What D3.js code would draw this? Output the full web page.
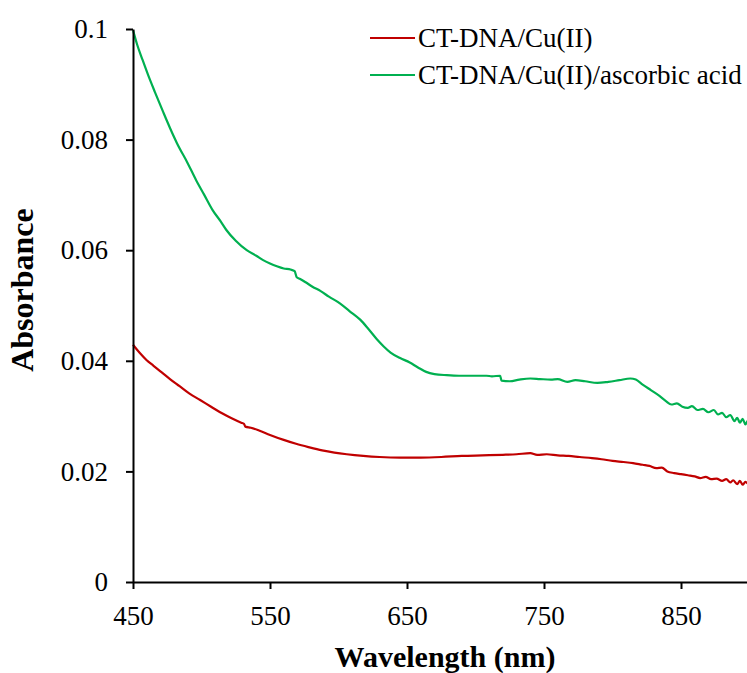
<!DOCTYPE html>
<html>
<head>
<meta charset="utf-8">
<script src="https://cdn.jsdelivr.net/npm/d3@7"></script>
<style>
  body { margin: 0; background: #fff; }
  svg { display: block; font-family: "Liberation Serif", "Times New Roman", serif; }
</style>
</head>
<body>
<div id="chart"></div>
<script>
// Absorbance readings (nm, absorbance)
const greenWl = [450, 453, 457, 461, 466, 472, 477, 482, 490, 496, 502, 508, 514, 518, 525, 533, 540, 545, 550, 555, 560, 565, 568, 569.5, 572, 576, 581, 587, 593, 601, 608, 616, 622, 628, 633, 638, 645, 652, 658, 664, 670, 679, 688, 698, 708, 712, 718, 719, 725, 732, 740, 747, 755, 760, 767, 773, 780, 789, 797, 805, 813, 817, 822, 828, 834, 839, 843, 847, 851, 855, 858, 862, 866, 870, 874, 877, 880, 883, 886, 889, 891, 893, 895, 897, 899, 900];
const greenAbs = [0.0998, 0.0972, 0.0944, 0.0917, 0.0886, 0.0850, 0.0821, 0.0794, 0.0757, 0.0727, 0.0700, 0.0673, 0.0652, 0.0637, 0.0617, 0.0600, 0.0590, 0.0582, 0.0576, 0.0571, 0.0567, 0.0565, 0.0562, 0.0551, 0.0548, 0.0542, 0.0534, 0.0526, 0.0516, 0.0504, 0.0490, 0.0474, 0.0457, 0.0439, 0.0426, 0.0415, 0.0405, 0.0397, 0.0388, 0.0380, 0.0376, 0.0374, 0.0373, 0.0373, 0.0373, 0.0372, 0.0373, 0.0364, 0.0363, 0.0366, 0.0368, 0.0367, 0.0366, 0.0367, 0.0362, 0.0365, 0.0363, 0.0360, 0.0362, 0.0365, 0.0368, 0.0366, 0.0357, 0.0347, 0.0337, 0.0327, 0.0321, 0.0323, 0.0317, 0.0315, 0.0318, 0.0311, 0.0313, 0.0307, 0.0311, 0.0303, 0.0306, 0.0298, 0.0302, 0.0291, 0.0297, 0.0288, 0.0295, 0.0285, 0.0292, 0.0287];

const redWl = [450, 455, 460, 465, 470, 477, 484, 491, 499, 507, 515, 522, 529, 531, 532, 536, 542, 550, 560, 569, 578, 588, 597, 606, 618, 630, 645, 660, 675, 690, 705, 720, 730, 740, 745, 752, 760, 768, 776, 785, 792, 800, 808, 815, 822, 827, 832, 836, 840, 845, 850, 855, 860, 864, 868, 872, 876, 880, 883, 886, 888, 891, 893, 895, 897, 899, 900];
const redAbs = [0.0429, 0.0414, 0.0401, 0.0391, 0.0381, 0.0367, 0.0354, 0.0341, 0.0329, 0.0317, 0.0305, 0.0296, 0.0288, 0.0286, 0.0281, 0.0279, 0.0274, 0.0266, 0.0257, 0.0250, 0.0244, 0.0238, 0.0234, 0.0231, 0.0228, 0.0226, 0.0225, 0.0225, 0.0226, 0.0228, 0.0229, 0.0230, 0.0231, 0.0233, 0.0230, 0.0231, 0.0229, 0.0228, 0.0226, 0.0224, 0.0222, 0.0219, 0.0217, 0.0215, 0.0212, 0.0210, 0.0206, 0.0207, 0.0200, 0.0197, 0.0195, 0.0193, 0.0191, 0.0188, 0.0190, 0.0186, 0.0187, 0.0183, 0.0186, 0.0180, 0.0184, 0.0177, 0.0183, 0.0176, 0.0181, 0.0178, 0.0180];

const xTicks = [450, 550, 650, 750, 850];
const yTicks = [0, 0.02, 0.04, 0.06, 0.08, 0.1];
const seriesNames = ["CT-DNA/Cu(II)", "CT-DNA/Cu(II)/ascorbic acid"];
const seriesColors = ["#c00000", "#00b050"];

const width = 747;
const height = 673;

const x = d3.scaleLinear().domain([450, 900]).range([133, 749.5]);
const y = d3.scaleLinear().domain([0, 0.1]).range([582, 29]);

const svg = d3.select("#chart")
  .append("svg")
  .attr("width", width)
  .attr("height", height);

const series = [
  { name: seriesNames[0], color: seriesColors[0], pts: redWl.map((w, i) => [w, redAbs[i]]) },
  { name: seriesNames[1], color: seriesColors[1], pts: greenWl.map((w, i) => [w, greenAbs[i]]) }
];

const line = d3.line()
  .curve(d3.curveMonotoneX)
  .x(d => x(d[0]))
  .y(d => y(d[1]));

svg.selectAll("path.series")
  .data(series)
  .enter().append("path")
  .attr("class", "series")
  .attr("fill", "none")
  .attr("stroke", d => d.color)
  .attr("stroke-width", 2.2)
  .attr("stroke-linejoin", "round")
  .attr("d", d => line(d.pts));

// axes
const xAxis = svg.append("g")
  .attr("transform", `translate(0,${y(0)})`)
  .call(d3.axisBottom(x).tickValues(xTicks).tickFormat(d3.format("d")).tickSize(7).tickSizeOuter(0).tickPadding(17));

const yAxis = svg.append("g")
  .attr("transform", `translate(${x(450)},0)`)
  .call(d3.axisLeft(y).tickValues(yTicks).tickFormat(d => d === 0 ? "0" : String(+d.toFixed(2))).tickSize(7).tickSizeOuter(0).tickPadding(18));

[xAxis, yAxis].forEach(ax => {
  ax.select(".domain").attr("stroke", "#000").attr("stroke-width", 2);
  ax.selectAll(".tick line").attr("stroke", "#000").attr("stroke-width", 2);
  ax.selectAll(".tick text")
    .attr("fill", "#000")
    .style("font-family", "Liberation Serif, Times New Roman, serif")
    .style("font-size", "27px");
});

// axis titles
svg.append("text")
  .attr("x", 445)
  .attr("y", 667)
  .attr("text-anchor", "middle")
  .style("font-size", "30px")
  .style("font-weight", "bold")
  .text("Wavelength (nm)");

svg.append("text")
  .attr("transform", "translate(33,290) rotate(-90)")
  .attr("text-anchor", "middle")
  .style("font-size", "32px")
  .style("font-weight", "bold")
  .text("Absorbance");

// legend
const legend = svg.append("g");
const item = legend.selectAll("g")
  .data(series)
  .enter().append("g")
  .attr("transform", (d, i) => `translate(370,${38 + i * 37})`);

item.append("line")
  .attr("x1", 0).attr("x2", 45)
  .attr("stroke", d => d.color)
  .attr("stroke-width", 2.2);

item.append("text")
  .attr("x", 48)
  .attr("dy", "0.33em")
  .style("font-size", "27px")
  .text(d => d.name);
</script>
</body>
</html>
